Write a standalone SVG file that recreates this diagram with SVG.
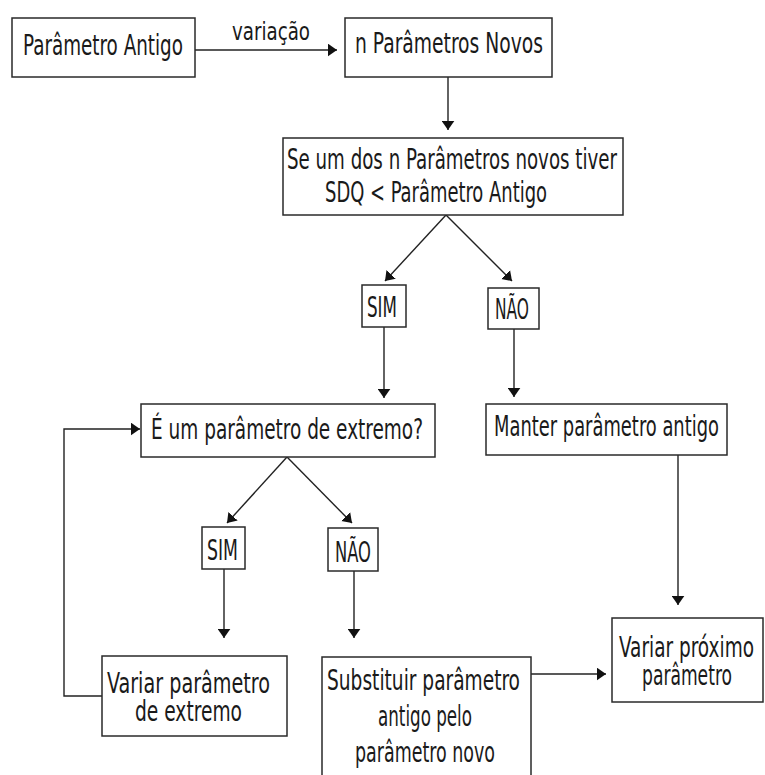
<svg xmlns="http://www.w3.org/2000/svg" width="765" height="775" viewBox="0 0 765 775">
  <style>
    .box { fill: #ffffff; stroke: #2a2a2a; stroke-width: 1.5; }
    .lbl { font-family: "Liberation Sans Narrow", "DejaVu Sans Condensed", "DejaVu Sans", sans-serif; font-stretch: condensed; font-size: 28px; fill: #1a1a1a; }
    .small { font-size: 25px; }
    /* smaller face stretched vertically: same look, narrower natural advance */
    .tall { font-size: 22.4px; }
    .wire { fill: none; stroke: #222222; stroke-width: 1.4; }
  </style>
  <defs>
    <marker id="head" viewBox="0 0 10 14" refX="10" refY="7" markerWidth="9" markerHeight="13" markerUnits="userSpaceOnUse" orient="auto">
      <path d="M0,0 L10,7 L0,14 z" fill="#111111"/>
    </marker>
  </defs>
  <rect width="765" height="775" fill="#ffffff"/>

  <!-- connectors -->
  <g id="connectors">
    <line class="wire" x1="195" y1="50" x2="337" y2="50" marker-end="url(#head)"/>
    <text class="lbl small" x="232" y="40" textLength="78" lengthAdjust="spacingAndGlyphs">variação</text>
    <line class="wire" x1="448" y1="77" x2="448" y2="130" marker-end="url(#head)"/>
    <line class="wire" x1="446" y1="215" x2="385" y2="281" marker-end="url(#head)"/>
    <line class="wire" x1="446" y1="215" x2="512" y2="281" marker-end="url(#head)"/>
    <line class="wire" x1="384" y1="327" x2="384" y2="398" marker-end="url(#head)"/>
    <line class="wire" x1="514" y1="329" x2="514" y2="397" marker-end="url(#head)"/>
    <polyline class="wire" points="102,696 64,696 64,429 140,429" marker-end="url(#head)"/>
    <line class="wire" x1="287" y1="457" x2="227" y2="523" marker-end="url(#head)"/>
    <line class="wire" x1="287" y1="457" x2="352" y2="523" marker-end="url(#head)"/>
    <line class="wire" x1="224" y1="569" x2="224" y2="638" marker-end="url(#head)"/>
    <line class="wire" x1="354" y1="571" x2="354" y2="638" marker-end="url(#head)"/>
    <line class="wire" x1="531" y1="674" x2="606" y2="674" marker-end="url(#head)"/>
    <line class="wire" x1="678" y1="455" x2="678" y2="605" marker-end="url(#head)"/>
  </g>

  <!-- nodes -->
  <g id="param-antigo">
    <rect class="box" x="12" y="18" width="183" height="59"/>
    <text class="lbl" x="23" y="55" textLength="160" lengthAdjust="spacingAndGlyphs">Parâmetro Antigo</text>
  </g>
  <g id="params-novos">
    <rect class="box" x="345" y="18" width="207" height="59"/>
    <text class="lbl" x="355" y="53" textLength="188" lengthAdjust="spacingAndGlyphs">n Parâmetros Novos</text>
  </g>
  <g id="teste-sdq">
    <rect class="box" x="283" y="138" width="340" height="77"/>
    <text class="lbl" x="287" y="169" textLength="330" lengthAdjust="spacingAndGlyphs">Se um dos n Parâmetros novos tiver</text>
    <text class="lbl" x="325" y="202" textLength="222" lengthAdjust="spacingAndGlyphs">SDQ &lt; Parâmetro Antigo</text>
  </g>
  <g id="sim-1">
    <rect class="box" x="362" y="285" width="44" height="42"/>
    <text class="lbl" x="367" y="317" textLength="30" lengthAdjust="spacingAndGlyphs">SIM</text>
  </g>
  <g id="nao-1">
    <rect class="box" x="488" y="288" width="51" height="41"/>
    <text class="lbl" x="495" y="319" textLength="34" lengthAdjust="spacingAndGlyphs">NÃO</text>
  </g>
  <g id="extremo">
    <rect class="box" x="141" y="404" width="294" height="53"/>
    <text class="lbl" x="151" y="439" textLength="272" lengthAdjust="spacingAndGlyphs">É um parâmetro de extremo?</text>
  </g>
  <g id="manter">
    <rect class="box" x="486" y="404" width="241" height="51"/>
    <text class="lbl tall" transform="translate(494,436) scale(1,1.25)" x="0" y="0" textLength="225" lengthAdjust="spacingAndGlyphs">Manter parâmetro antigo</text>
  </g>
  <g id="sim-2">
    <rect class="box" x="202" y="527" width="43" height="42"/>
    <text class="lbl" x="207" y="560" textLength="31" lengthAdjust="spacingAndGlyphs">SIM</text>
  </g>
  <g id="nao-2">
    <rect class="box" x="328" y="528" width="50" height="43"/>
    <text class="lbl" x="335" y="562" textLength="36" lengthAdjust="spacingAndGlyphs">NÃO</text>
  </g>
  <g id="variar-extremo">
    <rect class="box" x="102" y="656" width="185" height="80"/>
    <text class="lbl" x="107" y="693" textLength="163" lengthAdjust="spacingAndGlyphs">Variar parâmetro</text>
    <text class="lbl" x="135" y="721" textLength="107" lengthAdjust="spacingAndGlyphs">de extremo</text>
  </g>
  <g id="substituir">
    <rect class="box" x="322" y="657" width="209" height="125"/>
    <text class="lbl" x="327" y="690" textLength="193" lengthAdjust="spacingAndGlyphs">Substituir parâmetro</text>
    <text class="lbl" x="378" y="726" textLength="94" lengthAdjust="spacingAndGlyphs">antigo pelo</text>
    <text class="lbl" x="355" y="762" textLength="140" lengthAdjust="spacingAndGlyphs">parâmetro novo</text>
  </g>
  <g id="variar-proximo">
    <rect class="box" x="612" y="618" width="151" height="84"/>
    <text class="lbl tall" transform="translate(619,657) scale(1,1.25)" x="0" y="0" textLength="135" lengthAdjust="spacingAndGlyphs">Variar próximo</text>
    <text class="lbl tall" transform="translate(642,685) scale(1,1.25)" x="0" y="0" textLength="90" lengthAdjust="spacingAndGlyphs">parâmetro</text>
  </g>
</svg>
